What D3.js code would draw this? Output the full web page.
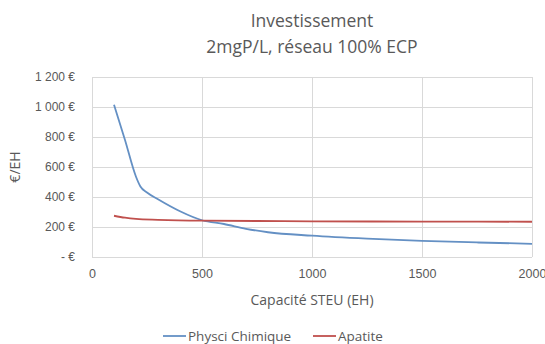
<!DOCTYPE html>
<html>
<head>
<meta charset="utf-8">
<script src="https://cdn.jsdelivr.net/npm/d3@7"></script>
<style>
  html, body { margin: 0; padding: 0; background: #fff; }
  svg { display: block; font-family: "Open Sans", Lato, sans-serif; }
</style>
</head>
<body>
<svg id="chart" width="545" height="344"></svg>
<script>
// Investment cost per population equivalent versus plant capacity
const capacityPhysico = [100, 150, 200, 220, 250, 300, 400, 500, 600, 700, 800, 1000, 1250, 1500, 1750, 2000];
const costPhysico     = [1015, 780, 535, 470, 430, 385, 305, 245, 220, 188, 165, 142, 122, 107, 97, 88];
const capacityApatite = [100, 150, 200, 300, 500, 750, 1000, 1500, 2000];
const costApatite     = [275, 262, 254, 248, 242, 240, 238, 236, 235];

const xTicks = [0, 500, 1000, 1500, 2000];
const yTicks = [0, 200, 400, 600, 800, 1000, 1200];
const yTickLabels = ["- €", "200 €", "400 €", "600 €", "800 €", "1 000 €", "1 200 €"];

const titleLines = ["Investissement", "2mgP/L, réseau 100% ECP"];
const seriesNames = ["Physci Chimique", "Apatite"];
const seriesColors = ["#6490c4", "#c0504d"];

const svg = d3.select("#chart");
const m = { left: 92, right: 13, top: 77, bottom: 87 };
const W = 545, H = 344;

const x = d3.scaleLinear().domain([0, 2000]).range([m.left, W - m.right]);
const y = d3.scaleLinear().domain([0, 1200]).range([H - m.bottom, m.top]);

const textColor = "#595959";
const gridColor = "#d9d9d9";

// Gridlines
svg.append("g").selectAll("line.h").data(yTicks).join("line")
  .attr("x1", x(0)).attr("x2", x(2000))
  .attr("y1", d => Math.round(y(d)) + 0.5).attr("y2", d => Math.round(y(d)) + 0.5)
  .attr("stroke", gridColor).attr("stroke-width", 1);
svg.append("g").selectAll("line.v").data(xTicks).join("line")
  .attr("y1", y(0)).attr("y2", y(1200))
  .attr("x1", d => Math.round(x(d)) + 0.5).attr("x2", d => Math.round(x(d)) + 0.5)
  .attr("stroke", gridColor).attr("stroke-width", 1);

// Axes (labels only; lines come from the grid)
const yAxis = d3.axisLeft(y).tickValues(yTicks).tickSize(0).tickPadding(17)
  .tickFormat((d, i) => yTickLabels[i]);
const gy = svg.append("g").attr("transform", `translate(${x(0)},0)`).call(yAxis);
gy.select(".domain").remove();
gy.selectAll("text").attr("fill", textColor).style("font-size", "12px");

const xAxis = d3.axisBottom(x).tickValues(xTicks).tickSize(0).tickPadding(12)
  .tickFormat(d3.format("d"));
const gx = svg.append("g").attr("transform", `translate(0,${y(0)})`).call(xAxis);
gx.select(".domain").remove();
gx.selectAll("text").attr("fill", textColor).style("font-size", "12.5px");

// Lines
const line = d3.line().x(d => x(d[0])).y(d => y(d[1])).curve(d3.curveMonotoneX);
const series = [
  capacityPhysico.map((c, i) => [c, costPhysico[i]]),
  capacityApatite.map((c, i) => [c, costApatite[i]])
];
series.forEach((s, i) => {
  svg.append("path").datum(s).attr("d", line)
    .attr("fill", "none").attr("stroke", seriesColors[i])
    .attr("stroke-width", 1.8).attr("stroke-linejoin", "round");
});

// Title
svg.append("g").selectAll("text").data(titleLines).join("text")
  .attr("x", 312).attr("y", (d, i) => 27 + i * 26)
  .attr("text-anchor", "middle").attr("fill", textColor)
  .style("font-size", "17.5px").text(d => d);

// Axis titles
svg.append("text").attr("x", 312).attr("y", 305)
  .attr("text-anchor", "middle").attr("fill", textColor)
  .style("font-size", "14px").text("Capacité STEU (EH)");
svg.append("text")
  .attr("transform", `translate(20,${(y(0) + y(1200)) / 2}) rotate(-90)`)
  .attr("text-anchor", "middle").attr("fill", textColor)
  .style("font-size", "14px").text("€/EH");

// Legend
const legendX = [163, 313];
const lg = svg.append("g").selectAll("g").data(seriesNames).join("g")
  .attr("transform", (d, i) => `translate(${legendX[i]},336)`);
lg.append("line").attr("x1", 0).attr("x2", 23).attr("y1", 0).attr("y2", 0)
  .attr("stroke", (d, i) => seriesColors[i]).attr("stroke-width", 1.8);
lg.append("text").attr("x", 25).attr("y", 5).attr("fill", textColor)
  .style("font-size", "13.5px").text(d => d);
</script>
</body>
</html>
